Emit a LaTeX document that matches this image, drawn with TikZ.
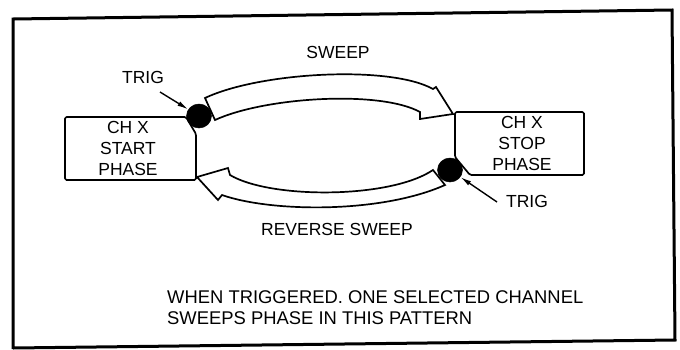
\documentclass[tikz,border=0pt]{standalone}
\usepackage{fontspec}
\setmainfont{Liberation Sans}
\usetikzlibrary{arrows.meta,shapes.geometric}
\tikzset{
  lbl/.style={font=\fontsize{17.5}{21}\selectfont, inner sep=0pt, anchor=base},
  caption/.style={font=\fontsize{18.4}{21}\selectfont, inner sep=0pt, anchor=base west},
  outline/.style={line width=1.7pt, line join=round},
  band/.style={line width=1.7pt, line join=miter, fill=white},
  trigdot/.style={fill=black, draw=black, line width=0.5pt, ellipse, minimum width=25pt, minimum height=24pt, inner sep=0pt},
  trigarrow/.style={line width=1.4pt, -{Latex[length=11pt,width=5pt]}},
  frame/.style={line width=3pt, line join=miter}
}
\begin{document}
\begin{tikzpicture}[x=1pt,y=-1pt]
\useasboundingbox (0,0) rectangle (680,349);
% outer frame
\draw[frame] (13,349) -- (13,19) -- (672,10) -- (675,340) -- (13,348);
% boxes
\draw[outline, rounded corners=1.5pt] (186,117) -- (65,117) -- (65,180) -- (196,180) -- (196,134) -- cycle;
\draw[outline, rounded corners=1.5pt] (455,112) -- (584,112) -- (584,175) -- (470,175) -- (455,157) -- cycle;
\node[lbl] (s1) at (128,133) {CH X};
\node[lbl] (s2) at (128,154) {START};
\node[lbl] (s3) at (128,175) {PHASE};
\node[lbl] (p1) at (522,128) {CH X};
\node[lbl] (p2) at (522,149) {STOP};
\node[lbl] (p3) at (522,170) {PHASE};
% sweep band
\draw[band] (205,98) .. controls (260,72) and (390,65) .. (433,89) -- (436,87) -- (453,114)
  -- (420,119) -- (420,112) .. controls (380,90) and (265,97) .. (215,120) -- cycle;
% reverse sweep band
\draw[band] (433,170) .. controls (390,199) and (270,199) .. (230,175) -- (228,168) -- (197,177)
  -- (218,200) -- (222,195) .. controls (270,212) and (380,214) .. (445,185) -- cycle;
% trigger dots
\node[trigdot] (d1) at (199,116) {};
\node[trigdot] (d2) at (450,170) {};
% trig labels and arrows
\node[lbl] (t1) at (143,83) {TRIG};
\node[lbl] (t2) at (527,207) {TRIG};
\coordinate (a1) at (160,92);
\coordinate (a2) at (497,202);
\draw[trigarrow] (a1) -- (d1);
\draw[trigarrow] (a2) -- (d2);
% band labels
\node[lbl] (sw) at (338,58) {SWEEP};
\node[lbl] (rsw) at (337,235) {REVERSE SWEEP};
% caption
\node[caption] (c1) at (167,303.5) {WHEN TRIGGERED. ONE SELECTED CHANNEL};
\node[caption] (c2) at (167,324) {SWEEPS PHASE IN THIS PATTERN};
\end{tikzpicture}
\end{document}
